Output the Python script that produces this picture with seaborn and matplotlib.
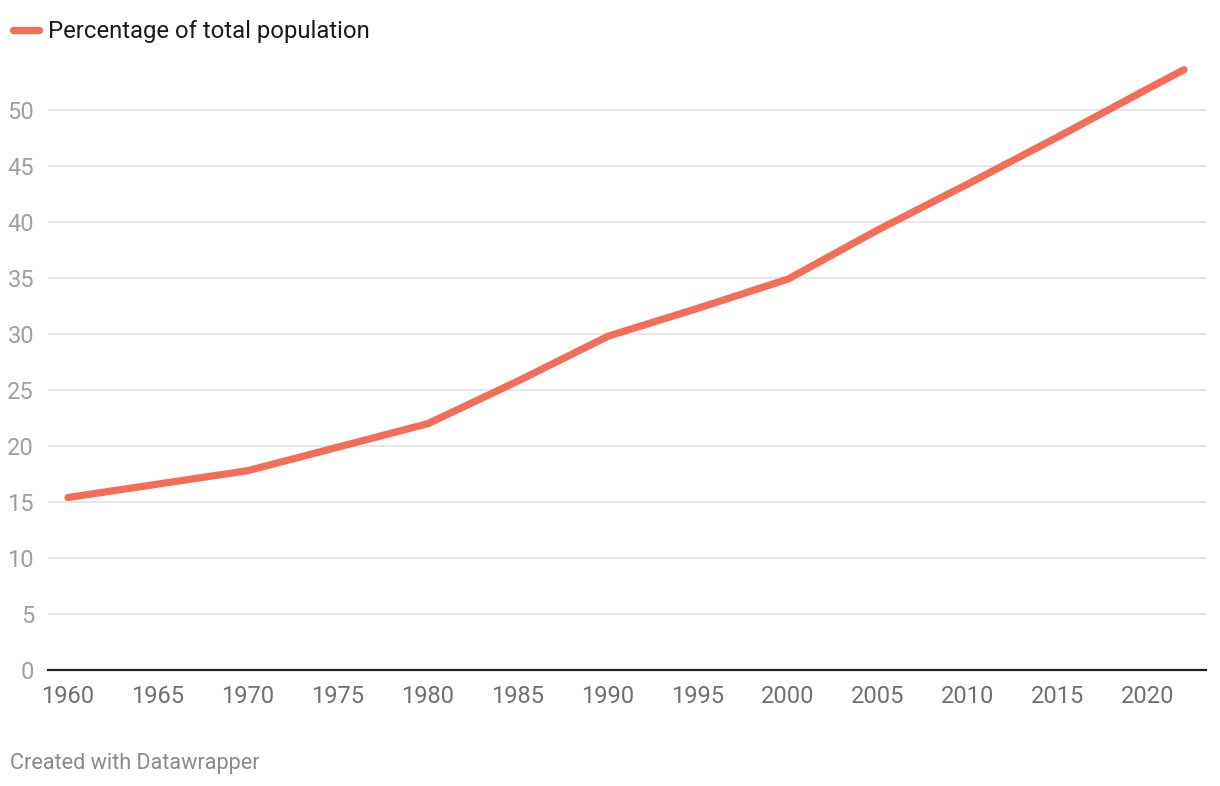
import numpy as np
import pandas as pd
import matplotlib
matplotlib.use("Agg")
import matplotlib.pyplot as plt
import seaborn as sns

# ── data ──────────────────────────────────────────────────────────────────────
years = [1960, 1965, 1970, 1975, 1980, 1985, 1990, 1995, 2000, 2005, 2010, 2015, 2020, 2022]
share = [15.4, 16.6, 17.8, 19.9, 22.0, 25.8, 29.8, 32.3, 34.9, 39.3, 43.4, 47.6, 51.9, 53.6]
yticks = [0, 5, 10, 15, 20, 25, 30, 35, 40, 45, 50]
xticks = list(range(1960, 2021, 5))
SERIES = "Percentage of total population"

df = pd.DataFrame({"year": years, "value": share, "series": SERIES})

sns.set_theme(style="white")
plt.rcParams["font.family"] = ["Roboto", "DejaVu Sans"]

W, H = 1220, 786
fig = plt.figure(figsize=(W / 100, H / 100), dpi=100)
ax = fig.add_axes([48 / W, 1 - 670 / H, (1206 - 48) / W, (670 - 40) / H])

LINE = "#f46d57"
sns.lineplot(data=df, x="year", y="value", ax=ax, color=LINE, linewidth=5.2,
             solid_capstyle="round", solid_joinstyle="round", label=SERIES,
             legend=False)

ax.set_xlim(1960 - 20 / 18, 1960 + (1206 - 68) / 18)
ax.set_ylim(0, (670 - 40) / 11.2)
ax.set_yticks(yticks)
ax.set_xticks(xticks)
ax.set_xlabel("")
ax.set_ylabel("")

for s in ["top", "right", "left"]:
    ax.spines[s].set_visible(False)
ax.spines["bottom"].set_color("#222222")
ax.spines["bottom"].set_linewidth(1.6)
ax.yaxis.grid(True, color="#e3e3e3", linewidth=1.2)
ax.set_axisbelow(True)

ax.tick_params(axis="y", length=0, pad=10, labelsize=17, labelcolor="#a0a0a0")
ax.tick_params(axis="x", length=0, pad=11, labelsize=17, labelcolor="#707070")
# hide gridline at 0 behind the axis line
ax.get_ygridlines()[0].set_visible(False)

handle = plt.Line2D([0], [0], color=LINE, linewidth=5.2, solid_capstyle="round")
fig.legend([handle], [SERIES], loc="upper left", bbox_to_anchor=(-0.004, 0.997),
           frameon=False, handlelength=1.1, handletextpad=0.35,
           fontsize=17.2, labelcolor="#1a1a1a", borderaxespad=0.35)

fig.text(10 / W, 1 - 763 / H, "Created with Datawrapper", fontsize=15.6,
         color="#8a8a8a", va="center", ha="left")

fig.savefig("out.png", dpi=100)
